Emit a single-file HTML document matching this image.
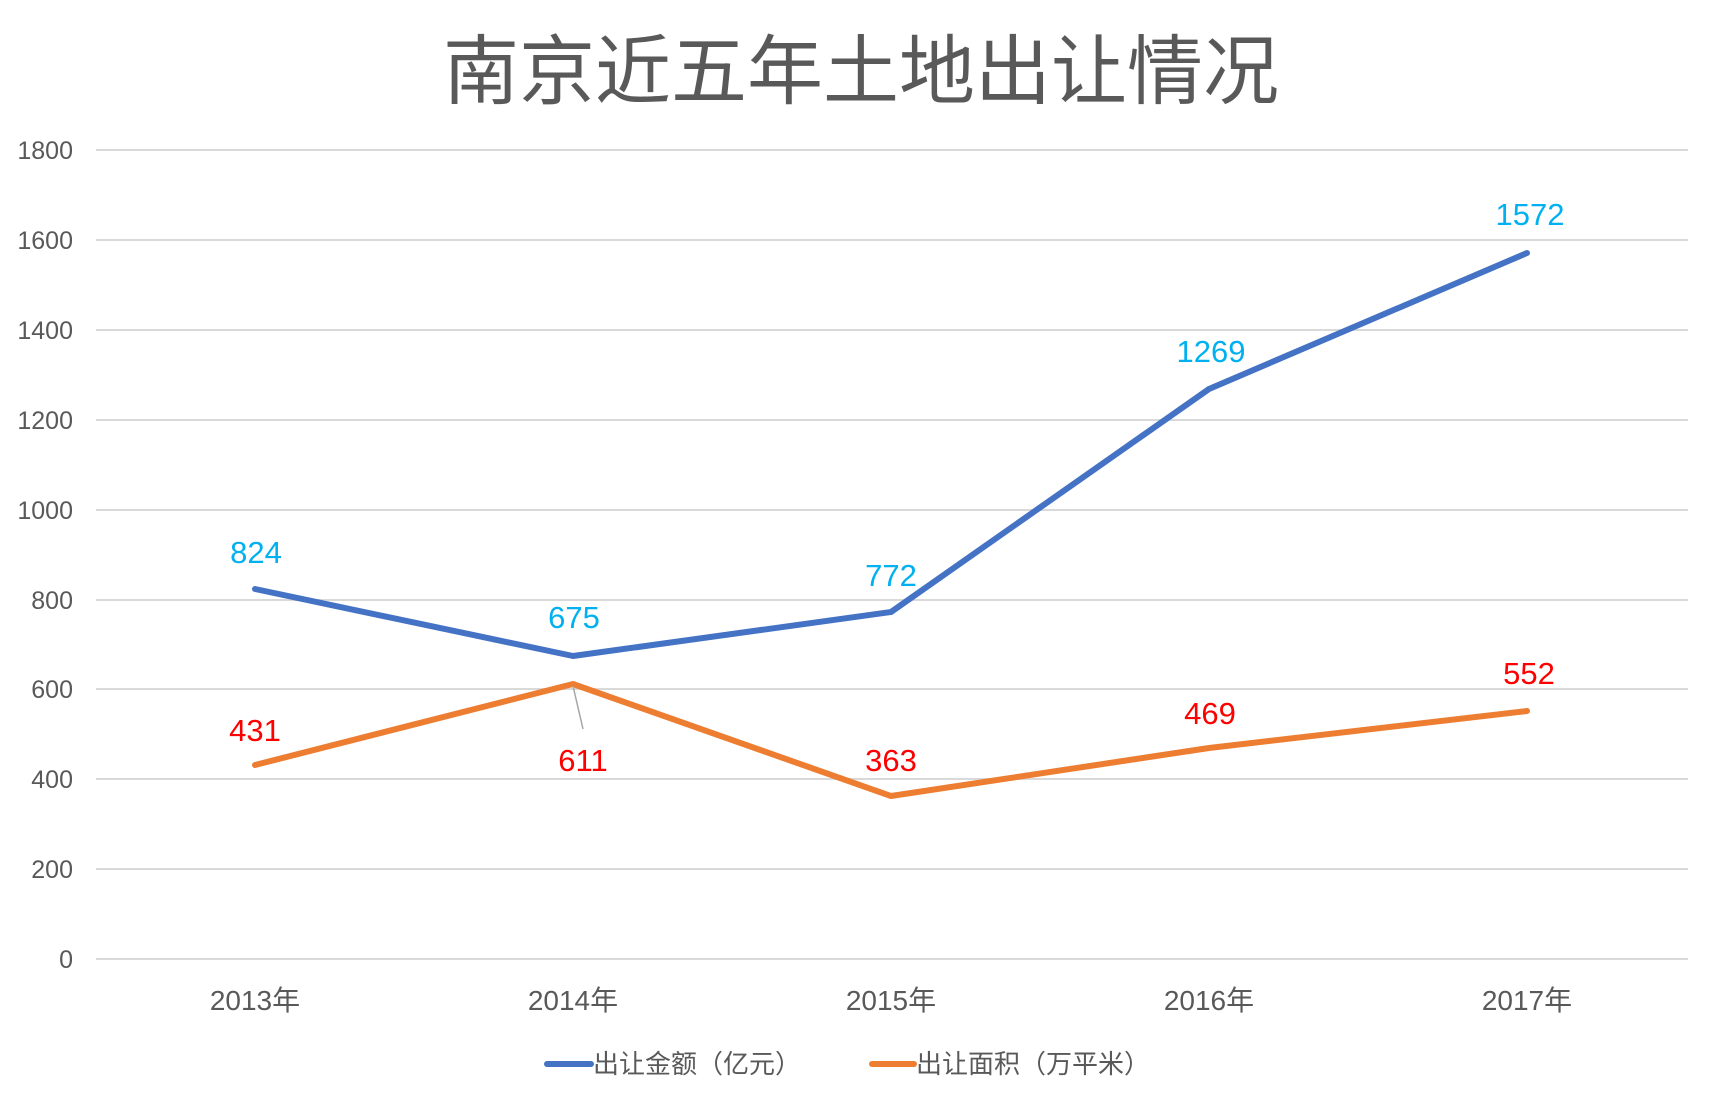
<!DOCTYPE html>
<html><head><meta charset="utf-8"><style>
html,body{margin:0;padding:0;background:#fff;}
svg text{font-family:"Liberation Sans","Noto Sans CJK SC",sans-serif;}
</style></head><body>
<svg width="1712" height="1098" viewBox="0 0 1712 1098" xmlns="http://www.w3.org/2000/svg">
<rect width="1712" height="1098" fill="#fff"/>
<text x="861" y="98" font-size="76" fill="#595959" text-anchor="middle">南京近五年土地出让情况</text>
<g stroke="#d9d9d9" stroke-width="2">
<line x1="96" x2="1688" y1="150" y2="150"/>
<line x1="96" x2="1688" y1="240" y2="240"/>
<line x1="96" x2="1688" y1="330" y2="330"/>
<line x1="96" x2="1688" y1="420" y2="420"/>
<line x1="96" x2="1688" y1="510" y2="510"/>
<line x1="96" x2="1688" y1="600" y2="600"/>
<line x1="96" x2="1688" y1="689" y2="689"/>
<line x1="96" x2="1688" y1="779" y2="779"/>
<line x1="96" x2="1688" y1="869" y2="869"/>
<line x1="96" x2="1688" y1="959" y2="959"/>
</g>
<g font-size="25" fill="#595959" text-anchor="end">
<text x="73" y="159">1800</text><text x="73" y="249">1600</text><text x="73" y="339">1400</text>
<text x="73" y="429">1200</text><text x="73" y="519">1000</text><text x="73" y="609">800</text>
<text x="73" y="698">600</text><text x="73" y="788">400</text><text x="73" y="878">200</text>
<text x="73" y="968">0</text>
</g>
<g font-size="28" fill="#595959" text-anchor="middle">
<text x="255" y="1010">2013年</text><text x="573" y="1010">2014年</text><text x="891" y="1010">2015年</text>
<text x="1209" y="1010">2016年</text><text x="1527" y="1010">2017年</text>
</g>
<polyline points="255,589 573,656 891,612 1209,389 1527,253" fill="none" stroke="#4472c4" stroke-width="6" stroke-linejoin="round" stroke-linecap="round"/>
<polyline points="255,765 573,684 891,796 1209,748 1527,711" fill="none" stroke="#ed7d31" stroke-width="6" stroke-linejoin="round" stroke-linecap="round"/>
<line x1="573" y1="686" x2="583" y2="729" stroke="#a6a6a6" stroke-width="1.5"/>
<g font-size="31" fill="#00b0f0" text-anchor="middle">
<text x="256" y="563">824</text><text x="574" y="628">675</text><text x="891" y="586">772</text>
<text x="1211" y="362">1269</text><text x="1530" y="225">1572</text>
</g>
<g font-size="31" fill="#ff0000" text-anchor="middle">
<text x="255" y="741">431</text><text x="583" y="771">611</text><text x="891" y="771">363</text>
<text x="1210" y="724">469</text><text x="1529" y="684">552</text>
</g>
<line x1="547" y1="1064" x2="591" y2="1064" stroke="#4472c4" stroke-width="6" stroke-linecap="round"/>
<text x="593" y="1073" font-size="26" fill="#595959">出让金额（亿元）</text>
<line x1="872" y1="1064" x2="914" y2="1064" stroke="#ed7d31" stroke-width="6" stroke-linecap="round"/>
<text x="916" y="1073" font-size="26" fill="#595959">出让面积（万平米）</text>
</svg>
</body></html>
